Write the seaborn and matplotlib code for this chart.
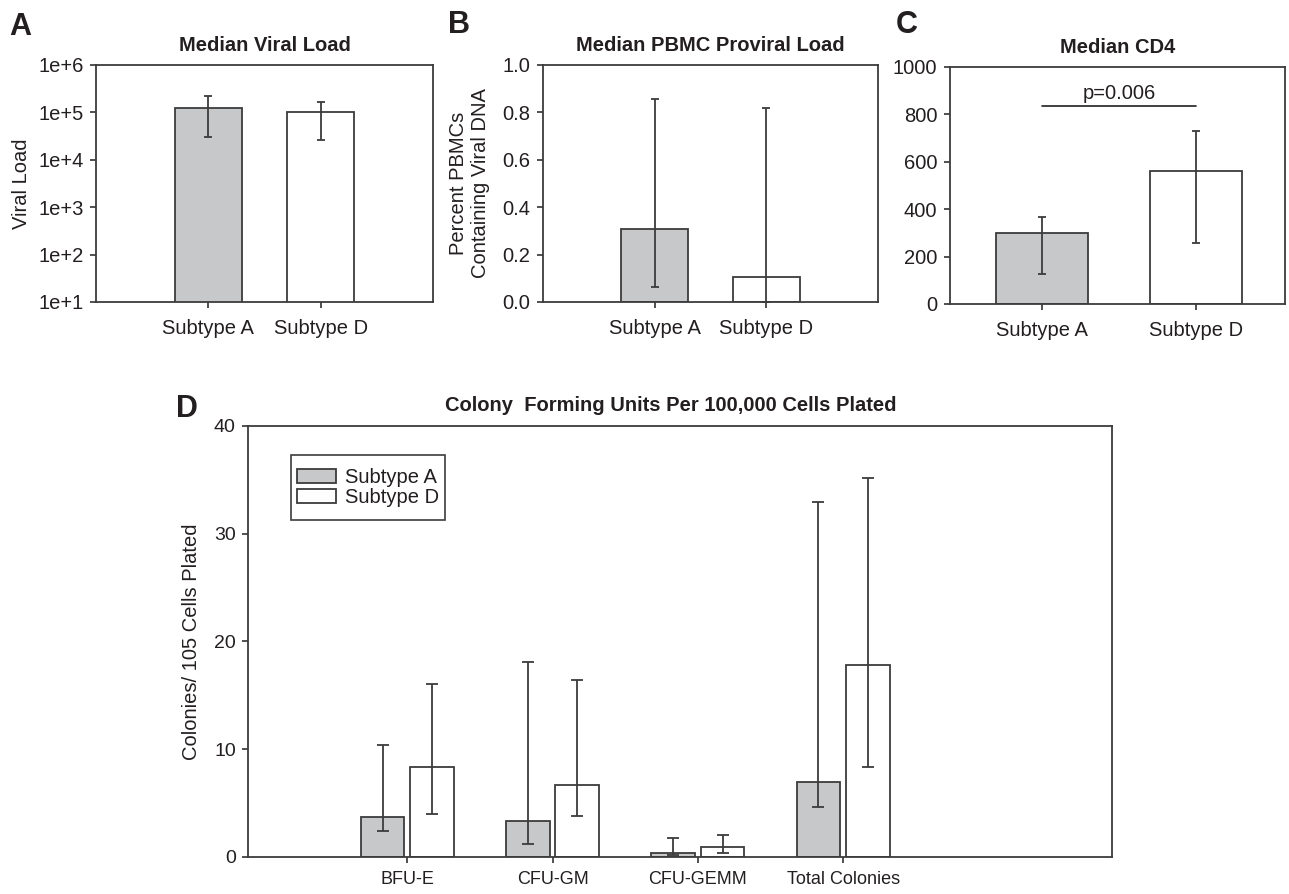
"""
Subtype A vs D: viral load, proviral load, CD4 and colony forming units.
"""

import numpy as np
import pandas as pd
import matplotlib
matplotlib.use("Agg")
import matplotlib.pyplot as plt
from matplotlib.patches import Rectangle
from matplotlib.ticker import FixedLocator, FuncFormatter, NullLocator
import seaborn as sns


# ── Data ───────────────────────────────────────────────────────────────────────

SUBTYPES = ["Subtype A", "Subtype D"]

viral_load    = [1.22e5, 1.03e5]
viral_load_lo = [3.0e4, 2.65e4]
viral_load_hi = [2.25e5, 1.63e5]

proviral    = [0.308, 0.105]
proviral_lo = [0.062, 0.0]
proviral_hi = [0.855, 0.817]

cd4    = [298, 562]
cd4_lo = [126, 256]
cd4_hi = [365, 729]
cd4_pvalue = "p=0.006"
cd4_bracket = 835

COLONY_TYPES = ["BFU-E", "CFU-GM", "CFU-GEMM", "Total Colonies"]
cfu_a    = [3.67, 3.34, 0.40, 6.93]
cfu_a_lo = [2.44, 1.18, 0.15, 4.60]
cfu_a_hi = [10.39, 18.13, 1.74, 32.9]
cfu_d    = [8.35, 6.71, 0.89, 17.8]
cfu_d_lo = [3.99, 3.84, 0.40, 8.35]
cfu_d_hi = [16.06, 16.4, 2.00, 35.2]


# ── Style ──────────────────────────────────────────────────────────────────────

INK    = "#231f20"
SPINE  = "#3c3c3c"
FILL_A = "#c7c8ca"
FILL_D = "#ffffff"
PALETTE = {"Subtype A": FILL_A, "Subtype D": FILL_D}
TITLE_KW = dict(fontsize=14.5, fontweight="bold")

sns.set_theme(style="white")
plt.rcParams["font.family"] = ["Liberation Sans", "DejaVu Sans"]
plt.rcParams.update({
    "text.color": INK,
    "axes.labelcolor": INK,
    "xtick.color": INK,
    "ytick.color": INK,
    "axes.edgecolor": SPINE,
    "axes.linewidth": 1.3,
    "xtick.bottom": True,
    "ytick.left": True,
    "xtick.direction": "out",
    "ytick.direction": "out",
    "xtick.major.size": 4,
    "ytick.major.size": 4,
    "xtick.major.width": 1.1,
    "ytick.major.width": 1.1,
    "xtick.labelsize": 14.5,
    "ytick.labelsize": 14.5,
    "axes.labelsize": 14.5,
})


def add_errorbars(ax, container, values, lo, hi, capsize):
    xs = [p.get_x() + p.get_width() / 2 for p in container.patches]
    values = np.asarray(values, dtype=float)
    yerr = [values - np.asarray(lo), np.asarray(hi) - values]
    ax.errorbar(xs, values, yerr=yerr, fmt="none", ecolor=SPINE,
                elinewidth=1.3, capsize=capsize, capthick=1.3, zorder=5)


def subtype_panel(ax, values, lo, hi, xlim, capsize=3):
    df = pd.DataFrame({"subtype": SUBTYPES, "value": values})
    sns.barplot(data=df, x="subtype", y="value", hue="subtype",
                palette=PALETTE, width=0.6, edgecolor=SPINE, linewidth=1.3,
                legend=False, ax=ax)
    bars = list(ax.containers)
    for c, v, l, h in zip(bars, values, lo, hi):
        add_errorbars(ax, c, [v], [l], [h], capsize)
    ax.set_xlim(*xlim)
    ax.set_xlabel("")
    ax.tick_params(axis="x", pad=8)
    ax.tick_params(axis="y", pad=5)


fig = plt.figure(figsize=(12.89, 8.94), dpi=100)

# ── A: viral load (log) ───────────────────────────────────────────────────────
ax_a = fig.add_axes([0.0745, 0.6622, 0.2614, 0.2651])
subtype_panel(ax_a, viral_load, viral_load_lo, viral_load_hi, (-1, 2))
ax_a.set_yscale("log")
ax_a.set_ylim(10, 1e6)
ax_a.yaxis.set_major_locator(FixedLocator([1e1, 1e2, 1e3, 1e4, 1e5, 1e6]))
ax_a.yaxis.set_minor_locator(NullLocator())
ax_a.yaxis.set_major_formatter(FuncFormatter(lambda v, _: f"1e+{int(round(np.log10(v)))}"))
ax_a.set_ylabel("Viral Load", labelpad=5)
ax_a.set_title("Median Viral Load", pad=10, **TITLE_KW)

# ── B: proviral load ──────────────────────────────────────────────────────────
ax_b = fig.add_axes([0.4213, 0.6622, 0.2599, 0.2651])
subtype_panel(ax_b, proviral, proviral_lo, proviral_hi, (-1, 2))
ax_b.set_ylim(0, 1.0)
ax_b.set_yticks(np.arange(0, 1.01, 0.2))
ax_b.yaxis.set_major_formatter(FuncFormatter(lambda v, _: f"{v:.1f}"))
ax_b.set_ylabel("Percent PBMCs\nContaining Viral DNA", labelpad=9)
ax_b.set_title("Median PBMC Proviral Load", pad=10, **TITLE_KW)

# ── C: CD4 ────────────────────────────────────────────────────────────────────
ax_c = fig.add_axes([0.737, 0.66, 0.2599, 0.2654])
subtype_panel(ax_c, cd4, cd4_lo, cd4_hi, (-0.6, 1.58))
ax_c.set_ylim(0, 1000)
ax_c.set_yticks(range(0, 1001, 200))
ax_c.set_ylabel("")
ax_c.set_title("Median CD4", pad=10, **TITLE_KW)
ax_c.plot([0, 1], [cd4_bracket, cd4_bracket], color=INK, lw=1.2)
ax_c.text(0.5, cd4_bracket + 14, cd4_pvalue, ha="center", va="bottom", fontsize=14.5)

# ── D: colony forming units ───────────────────────────────────────────────────
ax_d = fig.add_axes([0.1926, 0.0414, 0.670, 0.4821])
cfu = pd.DataFrame({
    "colony": COLONY_TYPES * 2,
    "subtype": [SUBTYPES[0]] * len(COLONY_TYPES) + [SUBTYPES[1]] * len(COLONY_TYPES),
    "value": cfu_a + cfu_d,
})
sns.barplot(data=cfu, x="colony", y="value", hue="subtype", hue_order=SUBTYPES,
            palette=PALETTE, width=0.68, gap=0.12, edgecolor=SPINE, linewidth=1.3,
            legend=False, ax=ax_d)
bar_sets = list(ax_d.containers)
add_errorbars(ax_d, bar_sets[0], cfu_a, cfu_a_lo, cfu_a_hi, capsize=4)
add_errorbars(ax_d, bar_sets[1], cfu_d, cfu_d_lo, cfu_d_hi, capsize=4)
ax_d.set_xlim(-1.094, 4.85)
ax_d.set_ylim(0, 40)
ax_d.set_yticks(range(0, 41, 10))
ax_d.set_xlabel("")
ax_d.set_ylabel("Colonies/ 105 Cells Plated", labelpad=9)
ax_d.tick_params(axis="x", pad=6, labelsize=13)
ax_d.tick_params(axis="y", pad=5, labelsize=14)
ax_d.set_title("Colony  Forming Units Per 100,000 Cells Plated", x=0.489, pad=11, **TITLE_KW)

# legend: tight sideways, roomier top and bottom, so the box is drawn by hand
leg = ax_d.legend([c.patches[0] for c in bar_sets], SUBTYPES, loc="upper left",
                  bbox_to_anchor=(0.049, 0.916), fontsize=14.5, frameon=False,
                  borderpad=0.3, labelspacing=0.05, handlelength=1.95,
                  handleheight=0.65, handletextpad=0.45, borderaxespad=0)
fig.canvas.draw()
bb = leg.get_window_extent().transformed(fig.transFigure.inverted())
extra = 7 / 894
fig.add_artist(Rectangle((bb.x0, bb.y0 - extra), bb.width, bb.height + 2 * extra,
                         transform=fig.transFigure, facecolor="none",
                         edgecolor=SPINE, linewidth=1.2, zorder=6))

# ── Panel letters ─────────────────────────────────────────────────────────────
for letter, x, y in [("A", 9, 35), ("B", 448, 33), ("C", 896, 33), ("D", 176, 417)]:
    fig.text(x / 1289, 1 - y / 894, letter, fontsize=22, fontweight="bold",
             ha="left", va="baseline")

plt.savefig("out.png", dpi=100)
plt.close()
